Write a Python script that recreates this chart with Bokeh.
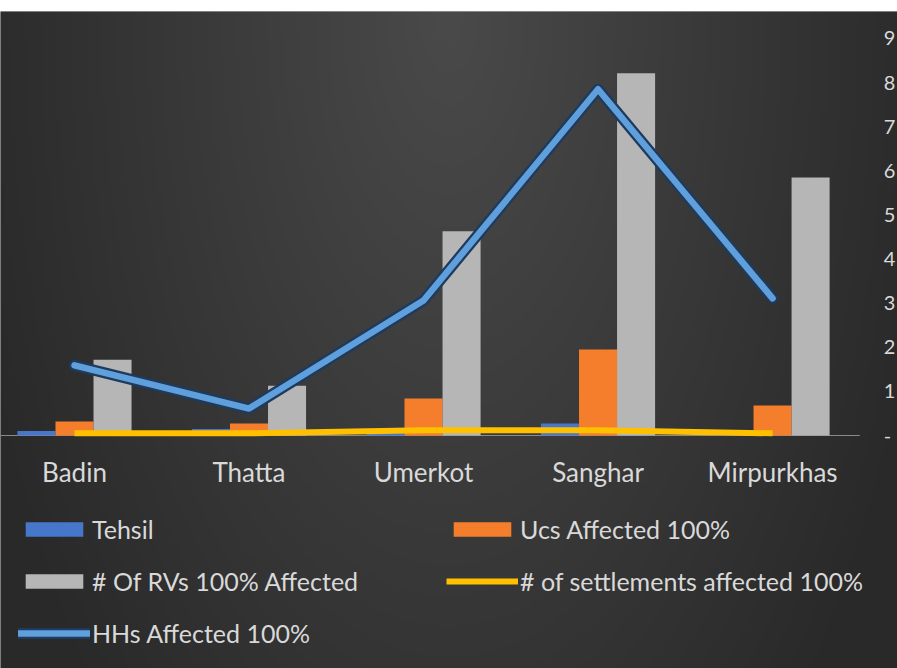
import numpy as np
from bokeh.plotting import figure
from bokeh.models import Range1d, Legend, LegendItem, ColumnDataSource
from bokeh.transform import dodge
from bokeh.core.properties import value
from bokeh.embed import file_html
from bokeh.resources import INLINE

# ---- data ----
categories = ["Badin", "Thatta", "Umerkot", "Sanghar", "Mirpurkhas"]
tehsil = [0.10, 0.15, 0.07, 0.27, 0.06]
ucs_affected = [0.32, 0.27, 0.84, 1.95, 0.68]
rvs_affected = [1.72, 1.13, 4.63, 8.21, 5.85]
settlements_affected = [0.05, 0.05, 0.12, 0.12, 0.05]
hhs_affected = [1.59, 0.61, 3.06, 7.85, 3.11]
y_ticks = [0, 1, 2, 3, 4, 5, 6, 7, 8, 9]
y_tick_labels = ["-", "1", "2", "3", "4", "5", "6", "7", "8", "9"]

FONT = "Lato"
TEXT_COLOR = "#d9d9d9"

xs = list(range(len(categories)))
bar_w = 0.218

X0, X1 = -0.424, 4.716
Y0, Y1 = -5.282, 9.612

src = ColumnDataSource(dict(
    x=xs, cat=categories, tehsil=tehsil, ucs=ucs_affected,
    rvs=rvs_affected, settle=settlements_affected, hhs=hhs_affected,
))
tick_src = ColumnDataSource(dict(y=y_ticks, label=y_tick_labels))

W, H = 897, 668
p = figure(width=W, height=H, output_backend="svg", toolbar_location=None,
           x_range=Range1d(X0, X1), y_range=Range1d(Y0, Y1),
           x_axis_location=None, y_axis_location=None,
           min_border_left=0, min_border_top=11, min_border_bottom=0, min_border_right=0)
p.grid.visible = False
p.outline_line_color = None
p.border_fill_color = "white"
p.background_fill_color = "#3a3a3a"

# background gradient (style only)
nx, ny = 240, 180
gx = np.linspace(0, 1, nx)
gy = np.linspace(0, 1, ny)  # 0 = bottom, 1 = top
GX, GY = np.meshgrid(gx, gy)
d = np.sqrt(((GX - 0.5) / 0.56) ** 2 + ((1 - GY) / 1.55) ** 2)
d = np.clip(d, 0, 1)
lv = (74 - 33 * d).astype(np.uint32)
img = (np.uint32(255) << 24) | (lv << 16) | (lv << 8) | lv
p.image_rgba(image=[img.astype(np.uint32)], x=X0, y=Y0, dw=X1 - X0, dh=Y1 - Y0)

# category axis baseline
p.segment(x0=[-0.5], y0=[0], x1=[4.5], y1=[0], line_color="#8a8a8a", line_width=1.2)

# bars
r_tehsil = p.vbar(x=dodge("x", -bar_w, range=p.x_range), top="tehsil", bottom=0, width=bar_w,
                  source=src, fill_color="#4677CB", line_color=None)
r_ucs = p.vbar(x=dodge("x", 0.0, range=p.x_range), top="ucs", bottom=0, width=bar_w,
               source=src, fill_color="#F47E2C", line_color=None)
r_rvs = p.vbar(x=dodge("x", bar_w, range=p.x_range), top="rvs", bottom=0, width=bar_w,
               source=src, fill_color="#B6B6B6", line_color=None)

# lines
r_settle = p.line(x="x", y="settle", source=src, line_color="#FFC000", line_width=6,
                  line_join="round", line_cap="butt")
r_hhs_shadow = p.line(x="x", y="hhs", source=src, line_color="#1E3A5C", line_width=11,
                      line_join="round", line_cap="round")
r_hhs = p.line(x="x", y="hhs", source=src, line_color="#5E9FDC", line_width=6.5,
               line_join="round", line_cap="round")

# category labels
p.text(x="x", y=-0.82, text="cat", source=src, text_align="center", text_baseline="middle",
       text_color=TEXT_COLOR, text_font=value(FONT), text_font_size="26px")

# value-axis labels at the right edge
p.text(x=4.637, y="y", text="label", source=tick_src, text_align="left", text_baseline="middle",
       text_color=TEXT_COLOR, text_font=value(FONT), text_font_size="20px")

legend = Legend(items=[
    LegendItem(label="Tehsil", renderers=[r_tehsil]),
    LegendItem(label="Ucs Affected 100%", renderers=[r_ucs]),
    LegendItem(label="# Of RVs 100% Affected", renderers=[r_rvs]),
    LegendItem(label="# of settlements affected 100%", renderers=[r_settle]),
    LegendItem(label="HHs Affected 100%", renderers=[r_hhs_shadow, r_hhs]),
], location=(18, 20), orientation="horizontal", ncols=2)
legend.background_fill_alpha = 0
legend.border_line_alpha = 0
legend.padding = 0
legend.margin = 0
legend.spacing = 22
legend.glyph_width = 72
legend.glyph_height = 18
legend.label_standoff = 2
legend.label_width = 332
legend.label_text_color = TEXT_COLOR
legend.label_text_font = FONT
legend.label_text_font_size = "25px"
p.add_layout(legend, "center")

open("out.html", "w").write(file_html(p, INLINE))
